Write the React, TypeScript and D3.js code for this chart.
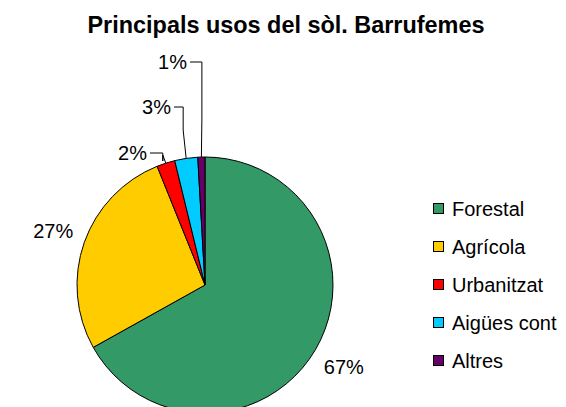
import React from "react";
import * as d3 from "d3";

const categories = ["Forestal", "Agrícola", "Urbanitzat", "Aigües cont", "Altres"];
const values = [66.9, 27.0, 2.3, 2.9, 0.9];
const colors = ["#339966", "#FFCC00", "#FF0000", "#00CCFF", "#660066"];
const title = "Principals usos del sòl. Barrufemes";

// label layout: null = placed on bisector; otherwise leader-line label (right end of text relative to centre)
const labelLayout: ({ dx: number; dy: number; elbowDy: number } | null)[] = [
  null,
  null,
  { dx: -58, dy: -132, elbowDy: -124 },
  { dx: -34, dy: -178, elbowDy: -165 },
  { dx: -18, dy: -223, elbowDy: -175 },
];

export default function App() {
  const W = 566, H = 407;
  const cx = 205, cy = 285, r = 128;
  const total = d3.sum(values);
  const pie = d3.pie<number>().sort(null).value((d) => d);
  const arcs = pie(values);
  const arc = d3.arc<d3.PieArcDatum<number>>().innerRadius(0).outerRadius(r);
  const font = "Liberation Sans, Arial, sans-serif";

  return (
    <svg width={W} height={H} style={{ position: "absolute", left: 0, top: 0, background: "#fff" }} fontFamily={font}>
      <text x={286} y={33} textAnchor="middle" fontWeight="bold" fontSize={23} textLength={397} lengthAdjust="spacingAndGlyphs">
        {title}
      </text>
      <g transform={`translate(${cx},${cy})`}>
        {arcs.map((a, i) => (
          <path key={i} d={arc(a) || ""} fill={colors[i]} stroke="#000" strokeWidth={1} />
        ))}
        {arcs.map((a, i) => {
          const pct = Math.round((values[i] / total) * 100) + "%";
          const mid = (a.startAngle + a.endAngle) / 2;
          const lay = labelLayout[i];
          if (!lay) {
            const rr = r + 33;
            const x = Math.sin(mid) * rr;
            const y = -Math.cos(mid) * rr;
            return (
              <text key={i} x={x} y={y + 7} textAnchor="middle" fontSize={20}>
                {pct}
              </text>
            );
          }
          const px = Math.sin(mid) * r;
          const py = -Math.cos(mid) * r;
          const ex = px - (i === 4 ? -0.5 : 3);
          const pts: [number, number][] = [
            [px, py],
            [ex, Math.min(py - 8, lay.elbowDy + 10)],
            [ex, lay.elbowDy],
            [ex, lay.dy],
            [lay.dx + 3, lay.dy],
          ];
          return (
            <g key={i}>
              <path d={d3.line()(pts) || ""} fill="none" stroke="#000" strokeWidth={1} />
              <text x={lay.dx} y={lay.dy + 7} textAnchor="end" fontSize={20}>
                {pct}
              </text>
            </g>
          );
        })}
      </g>
      <g>
        {categories.map((c, i) => (
          <g key={c} transform={`translate(433,${209 + i * 38})`}>
            <rect x={0.5} y={-5.5} width={10} height={10} fill={colors[i]} stroke="#000" strokeWidth={1} />
            <text x={19} y={7} fontSize={20}>
              {c}
            </text>
          </g>
        ))}
      </g>
    </svg>
  );
}
